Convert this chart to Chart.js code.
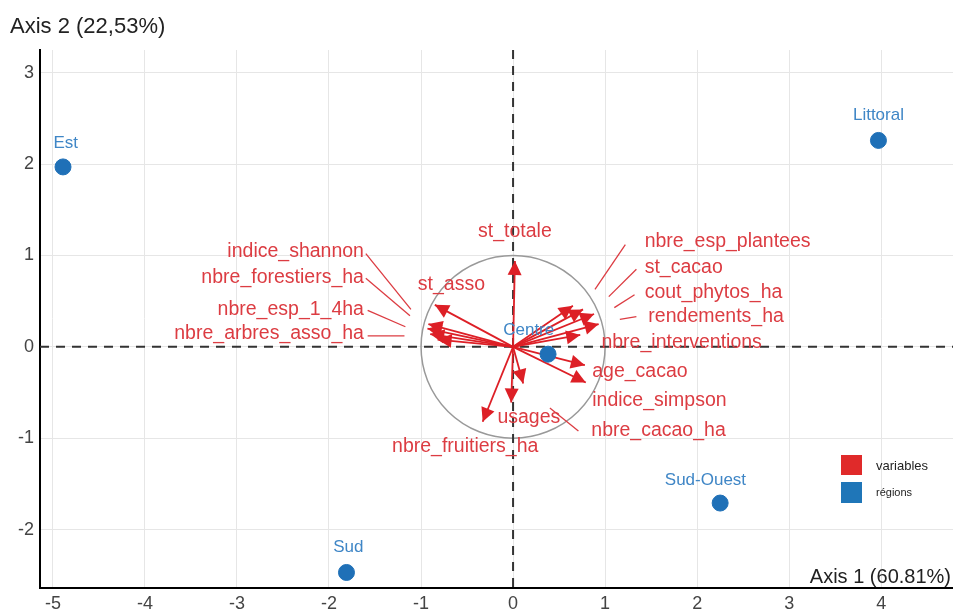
<!DOCTYPE html>
<html lang="fr">
<head>
<meta charset="utf-8">
<title>ACP – variables et régions</title>
<script src="https://cdn.jsdelivr.net/npm/chart.js@4/dist/chart.umd.min.js"></script>
<style>
  html, body { margin: 0; padding: 0; background: #fff; }
  #wrap { position: relative; width: 953px; height: 612px; }
</style>
</head>
<body>
<div id="wrap"><canvas id="chart"></canvas></div>
<script>
// Régions (individus) sur le plan 1-2
const regionNames = ['Est', 'Littoral', 'Centre', 'Sud-Ouest', 'Sud'];
const regionX = [-4.89, 3.97, 0.38, 2.25, -1.81];
const regionY = [1.97, 2.26, -0.08, -1.71, -2.47];

// Variables (flèches du cercle des corrélations)
const varNames = [
    'st_totale', 'st_asso', 'indice_shannon', 'nbre_forestiers_ha', 'nbre_esp_1_4ha',
    'nbre_arbres_asso_ha', 'nbre_esp_plantees', 'st_cacao', 'cout_phytos_ha', 'rendements_ha',
    'nbre_interventions', 'age_cacao', 'indice_simpson', 'nbre_cacao_ha', 'usages', 'nbre_fruitiers_ha'
];
const varX = [0.02, -0.85, -0.92, -0.93, -0.90, -0.82, 0.65, 0.76, 0.88, 0.93, 0.73, 0.78, 0.79, 0.11, -0.02, -0.33];
const varY = [0.94, 0.46, 0.25, 0.20, 0.14, 0.08, 0.45, 0.41, 0.36, 0.25, 0.13, -0.20, -0.39, -0.40, -0.61, -0.82];

// Graduations des axes
const xTicks = [-5, -4, -3, -2, -1, 0, 1, 2, 3, 4];
const yTicks = [-2, -1, 0, 1, 2, 3];

// Placement des étiquettes (en unités des axes), séparé des données
const regionLabelAt = [[-4.86, 2.23], [3.97, 2.54], [0.17, 0.18], [2.09, -1.46], [-1.79, -2.20]];
const varLabelAt = [
    [0.02, 1.26, 'center'], [-0.67, 0.68, 'center'], [-1.62, 1.04, 'right'], [-1.62, 0.76, 'right'],
    [-1.62, 0.41, 'right'], [-1.62, 0.14, 'right'], [1.43, 1.15, 'left'], [1.43, 0.87, 'left'],
    [1.43, 0.59, 'left'], [1.47, 0.33, 'left'], [0.96, 0.05, 'left'], [0.86, -0.27, 'left'],
    [0.86, -0.59, 'left'], [0.85, -0.92, 'left'], [-0.17, -0.78, 'left'], [-0.52, -1.09, 'center']
];
// Traits de rappel étiquette -> flèche
const leaders = [
    [-1.60, 1.02, -1.11, 0.41], [-1.60, 0.75, -1.12, 0.34], [-1.58, 0.40, -1.17, 0.22],
    [-1.58, 0.12, -1.18, 0.12], [1.22, 1.12, 0.89, 0.63], [1.34, 0.85, 1.04, 0.55],
    [1.32, 0.57, 1.10, 0.43], [1.34, 0.33, 1.16, 0.30], [0.71, -0.92, 0.40, -0.67]
];

const colors = {
    regions: '#1f70b7',
    regionText: '#3f86c6',
    variables: '#dd1f26',
    varText: '#dc3c42',
    grid: '#e6e6e6'
};
const font = 'Liberation Sans, Arial, sans-serif';

// Datasets : régions au premier plan, puis une flèche par variable
const regionSet = {
    label: 'régions',
    data: regionX.map((x, i) => ({ x, y: regionY[i] })),
    backgroundColor: colors.regions,
    borderColor: colors.regions,
    pointRadius: 8,
    pointHoverRadius: 8
};
const arrowSets = varNames.map((name, i) => ({
    label: name,
    data: [{ x: 0, y: 0 }, { x: varX[i], y: varY[i] }],
    showLine: true,
    borderColor: colors.variables,
    borderWidth: 1.8,
    pointRadius: 0,
    pointHoverRadius: 0
}));

function arrowHead(ctx, x0, y0, x1, y1, len, half) {
    const a = Math.atan2(y1 - y0, x1 - x0);
    const c = Math.cos(a), s = Math.sin(a);
    ctx.beginPath();
    ctx.moveTo(x1, y1);
    ctx.lineTo(x1 - len * c + half * s, y1 - len * s - half * c);
    ctx.lineTo(x1 - len * c - half * s, y1 - len * s + half * c);
    ctx.closePath();
    ctx.fill();
}

// Axes en pointillés + cercle des corrélations (sous les marques)
const underlay = {
    id: 'underlay',
    beforeDatasetsDraw(chart) {
        const { ctx, chartArea: a, scales: { x, y } } = chart;
        const x0 = x.getPixelForValue(0), y0 = y.getPixelForValue(0);
        ctx.save();
        ctx.strokeStyle = '#999';
        ctx.lineWidth = 1.5;
        ctx.beginPath();
        ctx.ellipse(x0, y0, x.getPixelForValue(1) - x0, y0 - y.getPixelForValue(1), 0, 0, Math.PI * 2);
        ctx.stroke();
        ctx.strokeStyle = '#333';
        ctx.lineWidth = 2;
        ctx.setLineDash([9, 7]);
        ctx.beginPath();
        ctx.moveTo(a.left, y0); ctx.lineTo(a.right, y0);
        ctx.moveTo(x0, a.top); ctx.lineTo(x0, a.bottom);
        ctx.stroke();
        ctx.restore();
    }
};

// Pointes de flèches, étiquettes, légende et titres d'axes
const overlay = {
    id: 'overlay',
    afterDatasetsDraw(chart) {
        const { ctx, scales: { x, y } } = chart;
        const px = v => x.getPixelForValue(v), py = v => y.getPixelForValue(v);
        ctx.save();

        ctx.fillStyle = colors.variables;
        arrowSets.forEach((ds, i) => {
            const pts = chart.getDatasetMeta(i + 1).data;
            arrowHead(ctx, pts[0].x, pts[0].y, pts[1].x, pts[1].y, 14, 7);
        });

        ctx.strokeStyle = colors.varText;
        ctx.lineWidth = 1.3;
        leaders.forEach(l => {
            ctx.beginPath();
            ctx.moveTo(px(l[0]), py(l[1]));
            ctx.lineTo(px(l[2]), py(l[3]));
            ctx.stroke();
        });

        ctx.textBaseline = 'middle';
        ctx.font = '19.5px ' + font;
        ctx.fillStyle = colors.varText;
        varNames.forEach((name, i) => {
            const [lx, ly, al] = varLabelAt[i];
            ctx.textAlign = al;
            ctx.fillText(name, px(lx), py(ly));
        });

        ctx.font = '17px ' + font;
        ctx.fillStyle = colors.regionText;
        ctx.textAlign = 'center';
        regionNames.forEach((name, i) => {
            ctx.fillText(name, px(regionLabelAt[i][0]), py(regionLabelAt[i][1]));
        });

        // Légende
        ctx.fillStyle = '#e02a2a';
        ctx.fillRect(841, 455, 21, 20);
        ctx.fillStyle = '#1f76b8';
        ctx.fillRect(841, 482, 21, 21);
        ctx.fillStyle = '#222';
        ctx.textAlign = 'left';
        ctx.font = '13px ' + font;
        ctx.fillText('variables', 876, 466);
        ctx.font = '11px ' + font;
        ctx.fillText('régions', 876, 493);

        // Titres d'axes
        ctx.fillStyle = '#222';
        ctx.font = '22px ' + font;
        ctx.fillText('Axis 2 (22,53%)', 10, 27);
        ctx.font = '20px ' + font;
        ctx.textAlign = 'right';
        ctx.fillText('Axis 1 (60.81%)', 951, 577);
        ctx.restore();
    }
};

const ctx = document.querySelector('#chart').getContext('2d');
const chart = new Chart(ctx, {
    type: 'scatter',
    data: { datasets: [regionSet, ...arrowSets] },
    options: {
        animation: false,
        responsive: true,
        maintainAspectRatio: false,
        layout: { autoPadding: false, padding: { top: 50, right: 0, bottom: 0, left: 0 } },
        plugins: {
            legend: { display: false },
            tooltip: { enabled: false }
        },
        scales: {
            x: {
                type: 'linear',
                min: -5.14,
                max: 4.78,
                afterBuildTicks: ax => { ax.ticks = xTicks.map(v => ({ value: v })); },
                afterFit: ax => { ax.height = 24; ax.paddingLeft = 0; ax.paddingRight = 0; },
                grid: { color: colors.grid, drawTicks: false },
                border: { display: true, color: '#000', width: 2 },
                ticks: { color: '#444', font: { family: font, size: 18 }, padding: 5 }
            },
            y: {
                type: 'linear',
                min: -2.64,
                max: 3.25,
                afterBuildTicks: ax => { ax.ticks = yTicks.map(v => ({ value: v })); },
                afterFit: ax => { ax.width = 40; ax.paddingTop = 0; ax.paddingBottom = 0; },
                grid: { color: colors.grid, drawTicks: false },
                border: { display: true, color: '#000', width: 2 },
                ticks: { color: '#444', font: { family: font, size: 18 }, padding: 6 }
            }
        }
    },
    plugins: [underlay, overlay]
});
</script>
</body>
</html>
